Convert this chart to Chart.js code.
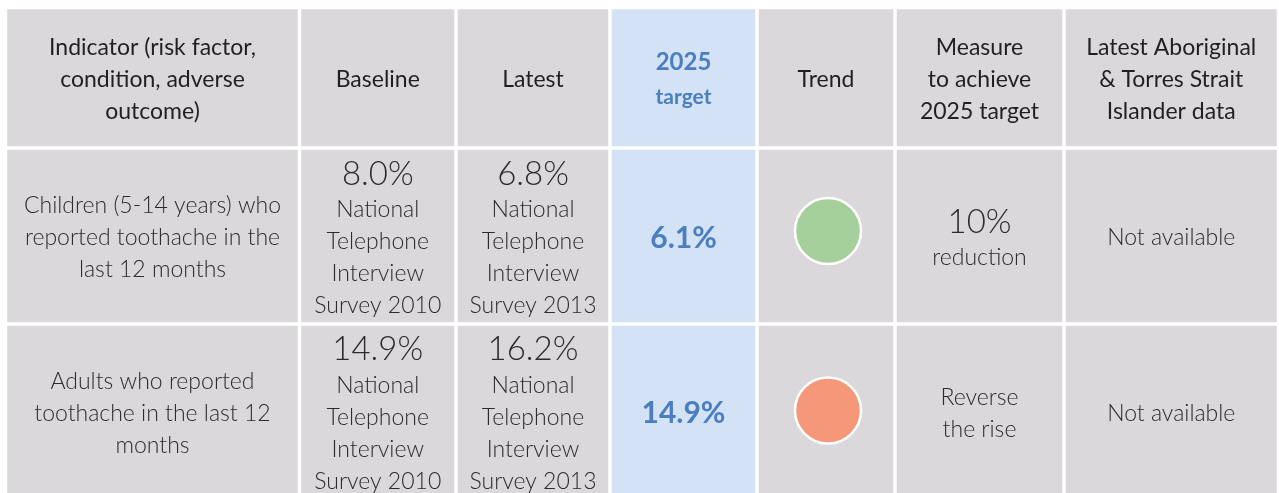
<!DOCTYPE html>
<html>
<head>
<meta charset="utf-8">
<script src="https://cdn.jsdelivr.net/npm/chart.js@4"></script>
<style>
  html, body { margin: 0; padding: 0; background: #fff; }
  canvas { display: block; }
</style>
</head>
<body>
<canvas id="table" width="1279" height="493"></canvas>
<script>
// table content
const headers = [
  "Indicator (risk factor,\ncondition, adverse\noutcome)",
  "Baseline",
  "Latest",
  "2025\ntarget",
  "Trend",
  "Measure\nto achieve\n2025 target",
  "Latest Aboriginal\n& Torres Strait\nIslander data",
];
const indicators = [
  "Children (5-14 years) who\nreported toothache in the\nlast 12 months",
  "Adults who reported\ntoothache in the last 12\nmonths",
];
const baselineValues = [8.0, 14.9];
const baselineSources = [
  "National\nTelephone\nInterview\nSurvey 2010",
  "National\nTelephone\nInterview\nSurvey 2010",
];
const latestValues = [6.8, 16.2];
const latestSources = [
  "National\nTelephone\nInterview\nSurvey 2013",
  "National\nTelephone\nInterview\nSurvey 2013",
];
const targetValues = [6.1, 14.9];
const trendStatus = ["improving", "worsening"];
const measures = ["10%\nreduction", "Reverse\nthe rise"];
const aboriginalData = ["Not available", "Not available"];

// layout
const COL_WIDTHS = [294, 156.5, 154, 147, 138, 169, 214.5];
const ROW_HEIGHTS = [140.5, 176, 175];
const X0 = 5.5;
const Y0 = 7.5;
const GAP = 3.5;
const TARGET_COL = 3;
const TREND_COL = 4;

const GREY = "#dad8db";
const BLUE_BG = "#d3e2f4";
const BLUE_TEXT = "#4a7ebf";
const HEAD_TEXT = "#231f20";
const BODY_TEXT = "#2b2b2b";
const trendColors = { improving: "#a6d09b", worsening: "#f59779" };

const colEdges = COL_WIDTHS.reduce((acc, w) => [...acc, acc[acc.length - 1] + w], [X0]);
const rowEdges = ROW_HEIGHTS.reduce((acc, h) => [...acc, acc[acc.length - 1] + h], [Y0]);
const colCenter = (c) => (colEdges[c] + colEdges[c + 1]) / 2;
const rowCenter = (r) => (rowEdges[r] + rowEdges[r + 1]) / 2;

const headFont = "400 23px Lato";
const bodyFont = "300 23px Lato";
const bigFont = "300 33px Lato";

const plain = (text, font, color, h) =>
  text.split("\n").map((t) => ({ text: t, font, color, h }));

const headerCell = (text, c) => {
  if (c === TARGET_COL) {
    const [a, b] = text.split("\n");
    return [
      { text: a, font: "700 24px Lato", color: BLUE_TEXT, h: 34 },
      { text: b, font: "700 21px Lato", color: BLUE_TEXT, h: 34 },
    ];
  }
  return plain(text, headFont, HEAD_TEXT, 32);
};

const valueCell = (value, source) => [
  { text: `${value.toFixed(1)}%`, font: bigFont, color: BODY_TEXT, h: 40 },
  ...plain(source, bodyFont, BODY_TEXT, 32),
];

const measureCell = (text) => {
  const lines = plain(text, bodyFont, BODY_TEXT, 32);
  if (/%$/.test(lines[0].text)) {
    lines[0].font = bigFont;
    lines[0].h = 40;
  }
  return lines;
};

const tableRows = [
  headers.map(headerCell),
  ...indicators.map((ind, r) => [
    plain(ind, bodyFont, BODY_TEXT, 32),
    valueCell(baselineValues[r], baselineSources[r]),
    valueCell(latestValues[r], latestSources[r]),
    [{ text: `${targetValues[r].toFixed(1)}%`, font: "700 30px Lato", color: BLUE_TEXT, h: 34 }],
    null,
    measureCell(measures[r]),
    plain(aboriginalData[r], bodyFont, BODY_TEXT, 32),
  ]),
];

const drawLines = (ctx, lines, cx, cy) => {
  const total = lines.reduce((s, l) => s + l.h, 0);
  let y = cy - total / 2;
  lines.forEach((l) => {
    ctx.font = l.font;
    ctx.fillStyle = l.color;
    ctx.fillText(l.text, cx, y + l.h / 2);
    y += l.h;
  });
};

const tablePlugin = {
  id: "tableCells",
  beforeDatasetsDraw(chart) {
    const { ctx, scales } = chart;
    const xs = scales.x;
    const ys = scales.y;
    ctx.save();
    ctx.fillStyle = "#fff";
    ctx.fillRect(0, 0, chart.width, chart.height);
    ctx.textAlign = "center";
    ctx.textBaseline = "middle";
    tableRows.forEach((cells, r) => {
      cells.forEach((lines, c) => {
        const left = xs.getPixelForValue(colEdges[c] + GAP / 2);
        const right = xs.getPixelForValue(colEdges[c + 1] - GAP / 2);
        const top = ys.getPixelForValue(rowEdges[r] + GAP / 2);
        const bottom = ys.getPixelForValue(rowEdges[r + 1] - GAP / 2);
        ctx.fillStyle = c === TARGET_COL ? BLUE_BG : GREY;
        ctx.fillRect(left, top, right - left, bottom - top);
        if (lines) {
          drawLines(ctx, lines, xs.getPixelForValue(colCenter(c)), ys.getPixelForValue(rowCenter(r) + 2));
        }
      });
    });
    ctx.restore();
  },
};

new Chart(document.getElementById("table"), {
  type: "scatter",
  data: {
    datasets: [
      {
        label: "Trend",
        data: trendStatus.map((_, r) => ({ x: colCenter(TREND_COL) + 2, y: rowCenter(r + 1) - (r === 0 ? 5 : 1) })),
        backgroundColor: trendStatus.map((s) => trendColors[s]),
        borderColor: "#fff",
        borderWidth: 2.5,
        pointRadius: 33,
        pointHoverRadius: 33,
      },
    ],
  },
  options: {
    responsive: false,
    devicePixelRatio: 1,
    animation: false,
    layout: { padding: 0, autoPadding: false },
    scales: {
      x: { type: "linear", min: 0, max: 1279, display: false },
      y: { type: "linear", min: 0, max: 493, reverse: true, display: false },
    },
    plugins: { legend: { display: false }, tooltip: { enabled: false } },
    clip: false,
  },
  plugins: [tablePlugin],
});
</script>
</body>
</html>
